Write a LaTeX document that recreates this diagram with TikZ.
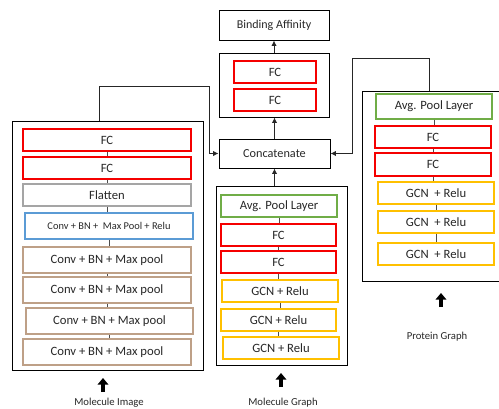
\documentclass[tikz,border=0pt]{standalone}
\usepackage{fontspec}
\setmainfont{Carlito}
\usetikzlibrary{arrows.meta}
\definecolor{fcred}{RGB}{245,0,0}
\definecolor{flatgray}{RGB}{165,165,165}
\definecolor{convblue}{RGB}{91,155,213}
\definecolor{convbrown}{RGB}{190,160,135}
\definecolor{poolgreen}{RGB}{112,173,71}
\definecolor{gcnyellow}{RGB}{255,192,0}
\definecolor{txt}{RGB}{40,40,40}
\newcommand\bx[7]{\node[#2, minimum width={(#5-#3)*0.75pt}, minimum height={(#6-#4)*0.75pt}] (#1) at ({(#3+#5)/2},{(#4+#6)/2}) {#7};}
\begin{document}
\begin{tikzpicture}[x=0.75pt,y=-0.75pt,
  outer/.style={draw=black, line width=0.75pt, inner sep=0pt, text=txt},
  layer/.style={line width=0.8pt, inner sep=0pt, text=txt, font=\fontsize{9.5}{11}\selectfont},
  fcbox/.style={layer, draw=fcred},
  flatbox/.style={layer, draw=flatgray},
  bluebox/.style={layer, draw=convblue, font=\fontsize{7.8}{9}\selectfont},
  brownbox/.style={layer, draw=convbrown},
  greenbox/.style={layer, draw=poolgreen},
  yellowbox/.style={layer, draw=gcnyellow},
  tick/.style={draw=black!70, line width=0.6pt},
  conn/.style={draw=black!85, line width=0.75pt, -{Latex[length=4pt,width=4pt]}},
  bigarrow/.style={draw=black, line width=2.6pt, -{Triangle[length=5pt,width=8pt]}},
  caption/.style={text=txt, font=\fontsize{8}{9}\selectfont, inner sep=0pt}
]
\clip (0,0) rectangle (499,408);
\fill[white] (0,0) rectangle (499,408);

% ---------- left: molecule image ----------
\bx{L}{outer}{12}{121}{203}{370}{}
\bx{L1}{fcbox}{23}{129}{191}{151}{FC}
\bx{L2}{fcbox}{23}{157}{191}{179}{FC}
\bx{L3}{flatbox}{23}{184}{191}{206}{Flatten}
\bx{L4}{bluebox}{25}{213}{193}{239}{Conv + BN +~ Max Pool + Relu}
\bx{L5}{brownbox}{23}{247}{191}{273}{Conv + BN + Max pool}
\bx{L6}{brownbox}{23}{277}{191}{303}{Conv + BN + Max pool}
\bx{L7}{brownbox}{26}{308}{193}{334}{Conv + BN + Max pool}
\bx{L8}{brownbox}{23}{339}{191}{365}{Conv + BN + Max pool}
\foreach \a/\b in {L1/L2,L2/L3,L3/L4,L4/L5,L5/L6,L6/L7,L7/L8}
  \draw[tick] (\a.south) -- (\a.south |- \b.north);
\coordinate (La1) at (103,392);
\coordinate (La2) at (103,378);
\draw[bigarrow] (La1) -- (La2);
\node[caption] (LC) at (109,403) {Molecule Image};

% ---------- middle ----------
\bx{BA}{outer, font=\fontsize{9}{10}\selectfont}{219}{10}{329}{40}{Binding Affinity}
\bx{G}{outer}{219}{53}{329}{117}{}
\bx{G1}{fcbox}{234}{61}{316}{83}{FC}
\bx{G2}{fcbox}{234}{89}{316}{111}{FC}
\bx{Cat}{outer, font=\fontsize{9.2}{10}\selectfont}{219}{139}{330}{168}{Concatenate}

\bx{M}{outer}{216}{186}{347}{365}{}
\bx{M1}{greenbox}{221}{195}{337}{217}{Avg. Pool Layer}
\bx{M2}{fcbox}{221}{224}{336}{246}{FC}
\bx{M3}{fcbox}{221}{251}{336}{273}{FC}
\bx{M4}{yellowbox}{222}{280}{338}{302}{GCN + Relu}
\bx{M5}{yellowbox}{221}{309}{336}{331}{GCN + Relu}
\bx{M6}{yellowbox}{223}{337}{339}{359}{GCN + Relu}
\foreach \a/\b in {M1/M2,M2/M3,M3/M4,M4/M5,M5/M6}
  \draw[tick] (\a.south) -- (\a.south |- \b.north);
\coordinate (Ma1) at (281,387);
\coordinate (Ma2) at (281,373);
\draw[bigarrow] (Ma1) -- (Ma2);
\node[caption] (MC) at (283,403) {Molecule Graph};

\draw[conn] (G.north) -- (BA.south);
\draw[conn] (Cat.north) -- (Cat.north |- G.south);
\draw[conn] (Cat.south |- M.north) -- (Cat.south);

% ---------- right: protein graph ----------
\bx{P}{outer}{362}{91}{525}{281}{}
\bx{P1}{greenbox}{376}{94}{492}{119}{Avg. Pool Layer}
\bx{P2}{fcbox}{375}{126}{491}{148}{FC}
\bx{P3}{fcbox}{375}{153}{491}{176}{FC}
\bx{P4}{yellowbox}{378}{182}{494}{204}{GCN~ + Relu}
\bx{P5}{yellowbox}{378}{211}{494}{233}{GCN~ + Relu}
\bx{P6}{yellowbox}{378}{243}{494}{265}{GCN~ + Relu}
\foreach \a/\b in {P1/P2,P2/P3,P3/P4,P4/P5,P5/P6}
  \draw[tick] (\a.south) -- (\a.south |- \b.north);
\coordinate (Pa1) at (441,307);
\coordinate (Pa2) at (441,293);
\draw[bigarrow] (Pa1) -- (Pa2);
\node[caption] (PC) at (437,337) {Protein Graph};

% ---------- connectors into Concatenate ----------
\coordinate (la) at (99,86);
\coordinate (lb) at (209,86);
\draw[conn] (L.north -| la) -- (la) -- (lb) -- (lb |- Cat.west) -- (Cat.west);
\coordinate (ra) at (429,58);
\coordinate (rb) at (352,58);
\draw[conn] (P.north -| ra) -- (ra) -- (rb) -- (rb |- Cat.east) -- (Cat.east);
\end{tikzpicture}
\end{document}
